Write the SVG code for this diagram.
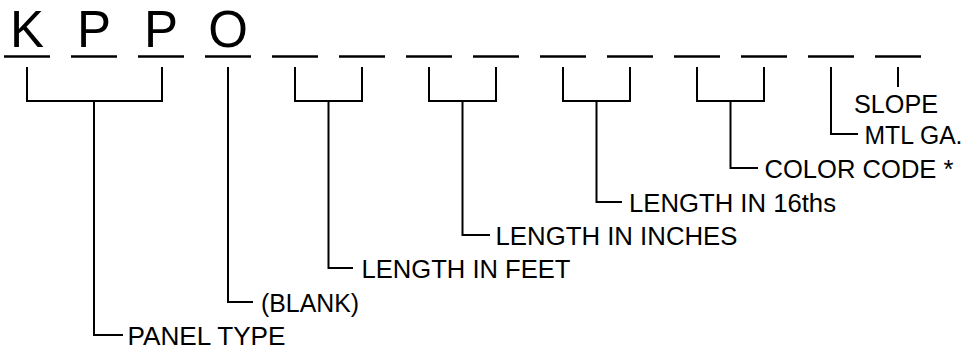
<svg xmlns="http://www.w3.org/2000/svg" width="964" height="349" viewBox="0 0 964 349">
<style>
.big{font-family:"Liberation Sans",Arial,sans-serif;font-size:51px;fill:#000;text-anchor:middle}
.lbl{font-family:"Liberation Sans",Arial,sans-serif;font-size:25px;fill:#000}
.us{stroke:#000;stroke-width:2.5;fill:none}
.ln{stroke:#000;stroke-width:2;fill:none}
</style>
<rect width="964" height="349" fill="#fff"/>
<g id="code">
<text class="big" x="27" y="47">K</text>
<text class="big" x="94" y="47">P</text>
<text class="big" x="161" y="47">P</text>
<text class="big" x="228" y="47">O</text>
<g class="us">
<line x1="4" y1="56.5" x2="50" y2="56.5"/>
<line x1="71" y1="56.5" x2="117" y2="56.5"/>
<line x1="138" y1="56.5" x2="184" y2="56.5"/>
<line x1="205" y1="56.5" x2="251" y2="56.5"/>
<line x1="272" y1="56.5" x2="318" y2="56.5"/>
<line x1="339" y1="56.5" x2="385" y2="56.5"/>
<line x1="406" y1="56.5" x2="452" y2="56.5"/>
<line x1="473" y1="56.5" x2="519" y2="56.5"/>
<line x1="540" y1="56.5" x2="586" y2="56.5"/>
<line x1="607" y1="56.5" x2="653" y2="56.5"/>
<line x1="674" y1="56.5" x2="720" y2="56.5"/>
<line x1="741" y1="56.5" x2="787" y2="56.5"/>
<line x1="808" y1="56.5" x2="854" y2="56.5"/>
<line x1="875" y1="56.5" x2="921" y2="56.5"/>
</g>
</g>
<g id="connectors" class="ln">
<path d="M27 67V101H162V67M94 101V335H123"/>
<path d="M228 67V302H253"/>
<path d="M295 67V101H362V67M328.5 101V268H353"/>
<path d="M429 67V101H496V67M462.5 101V235H490"/>
<path d="M563 67V101H630V67M596.5 101V202H622"/>
<path d="M697 67V101H764V67M730.5 101V168H758"/>
<path d="M831 67V134H858"/>
<path d="M898 67V87"/>
</g>
<g id="labels">
<text class="lbl" x="127.5" y="345" textLength="158" lengthAdjust="spacingAndGlyphs">PANEL TYPE</text>
<text class="lbl" x="261" y="311.5" textLength="98" lengthAdjust="spacingAndGlyphs">(BLANK)</text>
<text class="lbl" x="361.5" y="277.5" textLength="209" lengthAdjust="spacingAndGlyphs">LENGTH IN FEET</text>
<text class="lbl" x="495.5" y="244.5" textLength="242" lengthAdjust="spacingAndGlyphs">LENGTH IN INCHES</text>
<text class="lbl" x="629" y="211.5" textLength="207" lengthAdjust="spacingAndGlyphs">LENGTH IN 16ths</text>
<text class="lbl" x="764.5" y="177.5" textLength="189" lengthAdjust="spacingAndGlyphs">COLOR CODE *</text>
<text class="lbl" x="864.5" y="144" textLength="98" lengthAdjust="spacingAndGlyphs">MTL GA.</text>
<text class="lbl" x="854" y="112.5" textLength="84" lengthAdjust="spacingAndGlyphs">SLOPE</text>
</g>
</svg>
